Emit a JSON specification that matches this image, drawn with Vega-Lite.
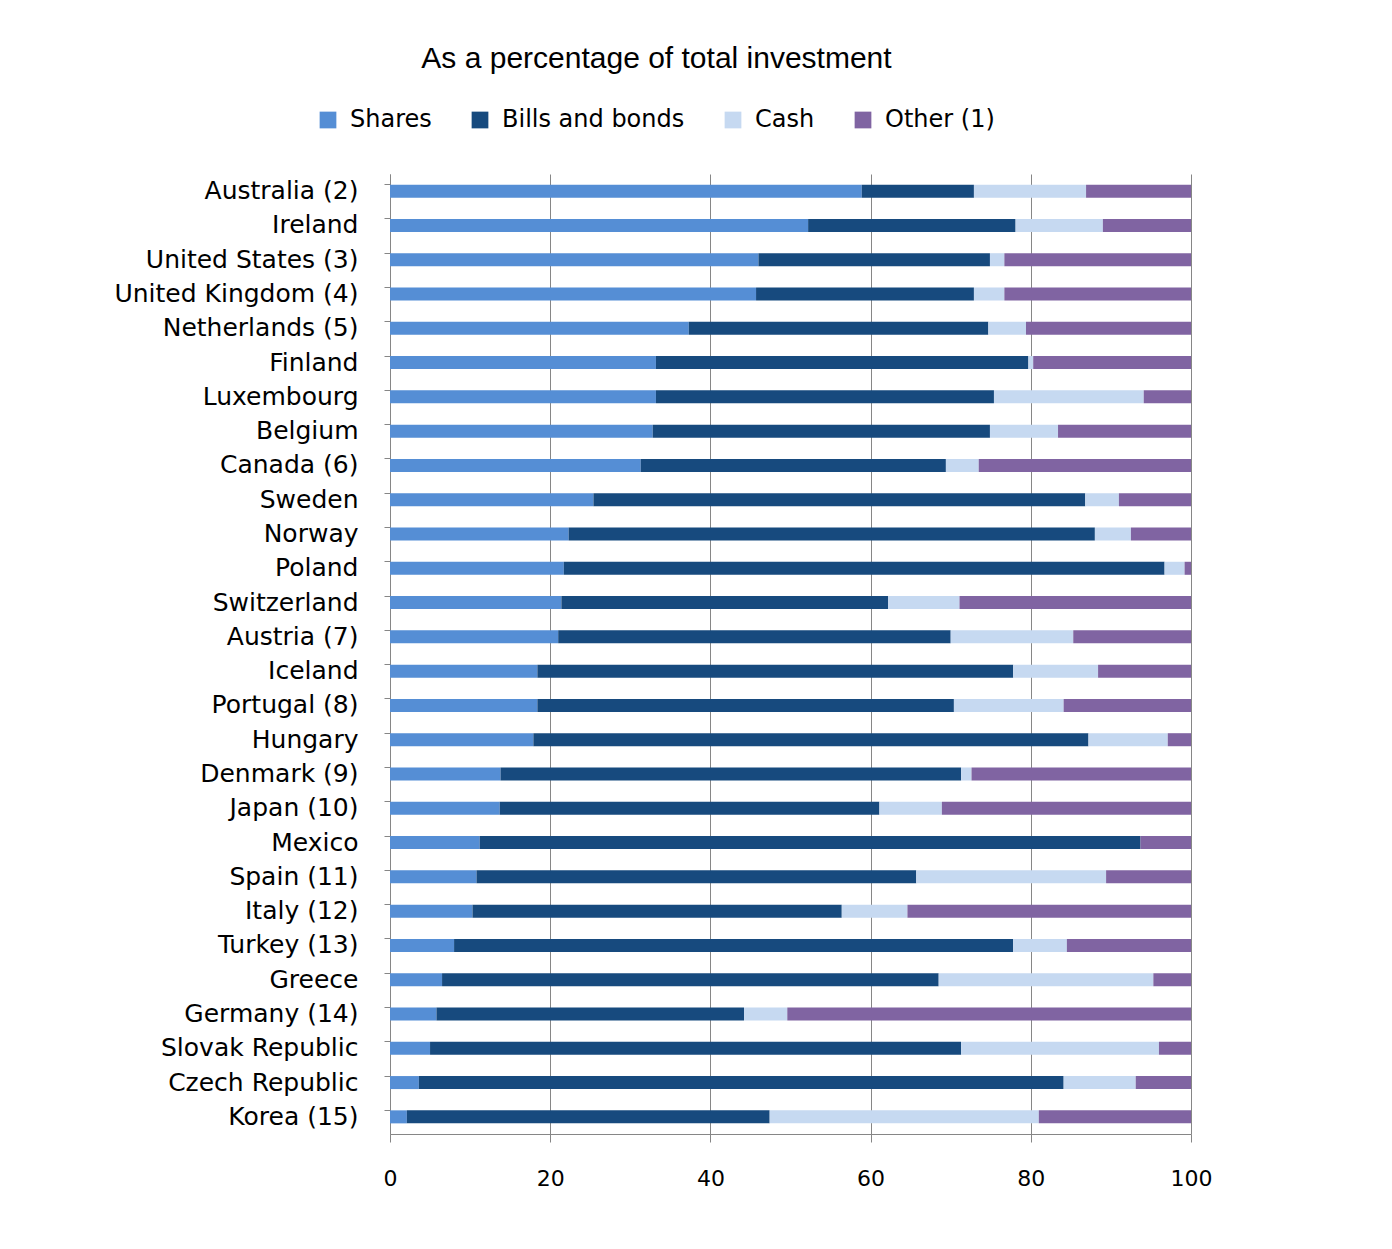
{
  "$schema": "https://vega.github.io/schema/vega-lite/v6.json",
  "autosize": {"type": "none"},
  "width": 801,
  "height": 960,
  "padding": {"left": 390, "top": 174, "right": 201, "bottom": 115},
  "background": "white",
  "title": {
    "text": "As a percentage of total investment",
    "anchor": "middle",
    "frame": "group",
    "offset": 34,
    "dx": -134,
    "font": "Liberation Sans",
    "fontSize": 30,
    "fontWeight": "normal",
    "color": "#000000"
  },
  "data": {
    "values": [
      {"country": "Australia (2)", "Shares": 58.9, "Bills and bonds": 14.0, "Cash": 14.0, "Other (1)": 13.1},
      {"country": "Ireland", "Shares": 52.2, "Bills and bonds": 25.9, "Cash": 10.9, "Other (1)": 11.0},
      {"country": "United States (3)", "Shares": 46.0, "Bills and bonds": 28.9, "Cash": 1.8, "Other (1)": 23.3},
      {"country": "United Kingdom (4)", "Shares": 45.7, "Bills and bonds": 27.2, "Cash": 3.8, "Other (1)": 23.3},
      {"country": "Netherlands (5)", "Shares": 37.3, "Bills and bonds": 37.4, "Cash": 4.7, "Other (1)": 20.6},
      {"country": "Finland", "Shares": 33.2, "Bills and bonds": 46.5, "Cash": 0.6, "Other (1)": 19.7},
      {"country": "Luxembourg", "Shares": 33.2, "Bills and bonds": 42.2, "Cash": 18.7, "Other (1)": 5.9},
      {"country": "Belgium", "Shares": 32.8, "Bills and bonds": 42.1, "Cash": 8.5, "Other (1)": 16.6},
      {"country": "Canada (6)", "Shares": 31.3, "Bills and bonds": 38.1, "Cash": 4.1, "Other (1)": 26.5},
      {"country": "Sweden", "Shares": 25.4, "Bills and bonds": 61.4, "Cash": 4.2, "Other (1)": 9.0},
      {"country": "Norway", "Shares": 22.3, "Bills and bonds": 65.7, "Cash": 4.5, "Other (1)": 7.5},
      {"country": "Poland", "Shares": 21.7, "Bills and bonds": 75.0, "Cash": 2.5, "Other (1)": 0.8},
      {"country": "Switzerland", "Shares": 21.4, "Bills and bonds": 40.8, "Cash": 8.9, "Other (1)": 28.9},
      {"country": "Austria (7)", "Shares": 21.0, "Bills and bonds": 49.0, "Cash": 15.3, "Other (1)": 14.7},
      {"country": "Iceland", "Shares": 18.4, "Bills and bonds": 59.4, "Cash": 10.6, "Other (1)": 11.6},
      {"country": "Portugal (8)", "Shares": 18.4, "Bills and bonds": 52.0, "Cash": 13.7, "Other (1)": 15.9},
      {"country": "Hungary", "Shares": 17.9, "Bills and bonds": 69.3, "Cash": 9.9, "Other (1)": 2.9},
      {"country": "Denmark (9)", "Shares": 13.8, "Bills and bonds": 57.5, "Cash": 1.3, "Other (1)": 27.4},
      {"country": "Japan (10)", "Shares": 13.7, "Bills and bonds": 47.4, "Cash": 7.8, "Other (1)": 31.1},
      {"country": "Mexico", "Shares": 11.2, "Bills and bonds": 82.5, "Cash": 0.0, "Other (1)": 6.3},
      {"country": "Spain (11)", "Shares": 10.8, "Bills and bonds": 54.9, "Cash": 23.7, "Other (1)": 10.6},
      {"country": "Italy (12)", "Shares": 10.3, "Bills and bonds": 46.1, "Cash": 8.2, "Other (1)": 35.4},
      {"country": "Turkey (13)", "Shares": 8.0, "Bills and bonds": 69.8, "Cash": 6.7, "Other (1)": 15.5},
      {"country": "Greece", "Shares": 6.5, "Bills and bonds": 62.0, "Cash": 26.8, "Other (1)": 4.7},
      {"country": "Germany (14)", "Shares": 5.8, "Bills and bonds": 38.4, "Cash": 5.4, "Other (1)": 50.4},
      {"country": "Slovak Republic", "Shares": 5.0, "Bills and bonds": 66.3, "Cash": 24.7, "Other (1)": 4.0},
      {"country": "Czech Republic", "Shares": 3.6, "Bills and bonds": 80.5, "Cash": 9.0, "Other (1)": 6.9},
      {"country": "Korea (15)", "Shares": 2.1, "Bills and bonds": 45.3, "Cash": 33.6, "Other (1)": 19.0}
    ]
  },
  "transform": [
    {"fold": ["Shares", "Bills and bonds", "Cash", "Other (1)"], "as": ["type", "value"]},
    {"window": [{"op": "row_number", "as": "stackRank"}], "groupby": ["country"]}
  ],
  "mark": {"type": "bar"},
  "encoding": {
    "y": {
      "field": "country",
      "type": "nominal",
      "sort": null,
      "scale": {"paddingInner": 0.62, "paddingOuter": 0.31},
      "axis": {
        "title": null,
        "bandPosition": 0,
        "domainColor": "#868686",
        "tickColor": "#868686",
        "tickSize": 6,
        "labelPadding": 26,
        "labelFont": "DejaVu Sans",
        "labelFontSize": 25,
        "labelLimit": 400,
        "labelColor": "#000000",
        "grid": false
      }
    },
    "x": {
      "field": "value",
      "type": "quantitative",
      "stack": "zero",
      "scale": {"domain": [0, 100], "nice": false},
      "axis": {
        "title": null,
        "values": [0, 20, 40, 60, 80, 100],
        "grid": true,
        "gridColor": "#868686",
        "gridWidth": 1,
        "domainColor": "#868686",
        "tickColor": "#868686",
        "tickSize": 8,
        "labelPadding": 26,
        "labelFlush": false,
        "labelFont": "DejaVu Sans",
        "labelFontSize": 22,
        "labelColor": "#000000"
      }
    },
    "color": {
      "field": "type",
      "type": "nominal",
      "sort": ["Shares", "Bills and bonds", "Cash", "Other (1)"],
      "scale": {
        "domain": ["Shares", "Bills and bonds", "Cash", "Other (1)"],
        "range": ["#558ED5", "#174A7E", "#C6D9F1", "#8064A2"]
      },
      "legend": {
        "title": null,
        "orient": "none",
        "direction": "horizontal",
        "legendX": -74,
        "legendY": -66,
        "symbolType": "square",
        "symbolSize": 280,
        "symbolStrokeWidth": 0,
        "labelFont": "DejaVu Sans",
        "labelFontSize": 24,
        "labelColor": "#000000",
        "labelOffset": 10,
        "columnPadding": 36,
        "labelLimit": 300
      }
    },
    "order": {"field": "stackRank", "type": "quantitative", "sort": "ascending"}
  },
  "config": {
    "view": {"stroke": null}
  }
}
